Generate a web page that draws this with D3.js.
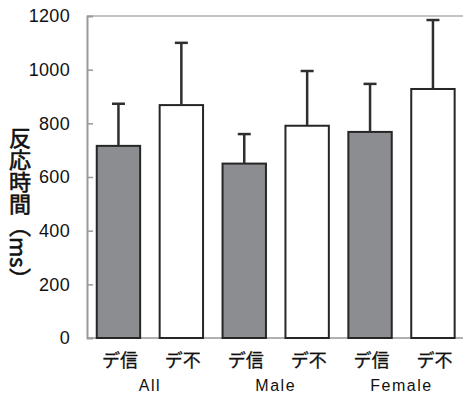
<!DOCTYPE html>
<html>
<head>
<meta charset="utf-8">
<script src="https://cdn.jsdelivr.net/npm/d3@7"></script>
<style>
  body { margin: 0; background: #fff; }
  svg { display: block; }
</style>
</head>
<body>
<div id="chart"></div>
<script>
// data
var conditions = ["デ信", "デ不", "デ信", "デ不", "デ信", "デ不"];
var groups = ["All", "Male", "Female"];
var means = [716, 868, 650, 791, 768, 928];
var errors = [157, 232, 110, 204, 179, 257];
var yTicks = [0, 200, 400, 600, 800, 1000, 1200];

var width = 463, height = 395;
var plotLeft = 87, plotTop = 16, plotBottom = 338;

var svg = d3.select("#chart").append("svg")
    .attr("width", width)
    .attr("height", height);

var x = d3.scaleBand()
    .domain(d3.range(conditions.length))
    .range([plotLeft, 464.4])
    .paddingInner(0.31)
    .paddingOuter(0.155);

var y = d3.scaleLinear().domain([0, 1200]).range([plotBottom, plotTop]);

// frame lines
svg.append("line")
    .attr("x1", plotLeft).attr("x2", width)
    .attr("y1", y(1200)).attr("y2", y(1200))
    .attr("stroke", "#c4c4c4").attr("stroke-width", 2);
svg.append("line")
    .attr("x1", plotLeft).attr("x2", width)
    .attr("y1", y(0)).attr("y2", y(0))
    .attr("stroke", "#b0b0b0").attr("stroke-width", 2);

// y axis, ticks pointing inward
var yAxis = svg.append("g")
    .attr("transform", "translate(" + plotLeft + ",0)")
    .call(d3.axisLeft(y).tickValues(yTicks).tickFormat(d3.format("d"))
        .tickSize(-6).tickPadding(17));
yAxis.select(".domain").attr("stroke", "#999").attr("stroke-width", 2);
yAxis.selectAll(".tick line").attr("stroke", "#999").attr("stroke-width", 1.5)
    .filter(function (d) { return d === 0 || d === 1200; }).remove();
yAxis.selectAll(".tick text")
    .attr("fill", "#111")
    .style("font-family", "'Liberation Sans', Arial, sans-serif")
    .style("font-size", "18px")
    .style("letter-spacing", "0.3px");

// bars
svg.selectAll(".bar")
    .data(means)
    .enter().append("rect")
    .attr("class", "bar")
    .attr("x", function (d, i) { return x(i); })
    .attr("y", function (d) { return y(d); })
    .attr("width", x.bandwidth())
    .attr("height", function (d) { return y(0) - y(d); })
    .attr("fill", function (d, i) { return i % 2 === 0 ? "#8b8d91" : "#fff"; })
    .attr("stroke", "#262626")
    .attr("stroke-width", 2);

// error bars (upper only)
var err = svg.selectAll(".err")
    .data(means)
    .enter().append("g")
    .attr("class", "err")
    .attr("stroke", "#2e2e2e")
    .attr("stroke-width", 2.5);
err.append("line")
    .attr("x1", function (d, i) { return x(i) + x.bandwidth() / 2; })
    .attr("x2", function (d, i) { return x(i) + x.bandwidth() / 2; })
    .attr("y1", function (d) { return y(d); })
    .attr("y2", function (d, i) { return y(d + errors[i]); });
err.append("line")
    .attr("x1", function (d, i) { return x(i) + x.bandwidth() / 2 - 6.5; })
    .attr("x2", function (d, i) { return x(i) + x.bandwidth() / 2 + 6.5; })
    .attr("y1", function (d, i) { return y(d + errors[i]); })
    .attr("y2", function (d, i) { return y(d + errors[i]); });

// category labels
svg.selectAll(".cond")
    .data(conditions)
    .enter().append("text")
    .attr("class", "cond")
    .attr("x", function (d, i) { return x(i) + x.bandwidth() / 2 + 1.5; })
    .attr("y", 367)
    .attr("text-anchor", "middle")
    .style("font-family", "'Noto Sans CJK JP', sans-serif")
    .style("font-size", "18px")
    .attr("fill", "#111")
    .attr("stroke", "#111")
    .attr("stroke-width", 0.3)
    .text(function (d) { return d; });

svg.selectAll(".grp")
    .data(groups)
    .enter().append("text")
    .attr("class", "grp")
    .attr("x", function (d, i) { return (x(2 * i) + x(2 * i + 1) + x.bandwidth()) / 2; })
    .attr("y", 391)
    .attr("text-anchor", "middle")
    .style("font-family", "'Liberation Sans', Arial, sans-serif")
    .style("font-size", "16px")
    .style("letter-spacing", "1.5px")
    .attr("fill", "#111")
    .text(function (d) { return d; });

// y axis title, written vertically
svg.append("text")
    .attr("x", 20)
    .attr("y", 127)
    .style("writing-mode", "vertical-rl")
    .style("font-family", "'Noto Sans CJK JP', sans-serif")
    .style("font-size", "22px")
    .attr("fill", "#111")
    .attr("stroke", "#111")
    .attr("stroke-width", 0.6)
    .text("反応時間（ms）");
</script>
</body>
</html>
